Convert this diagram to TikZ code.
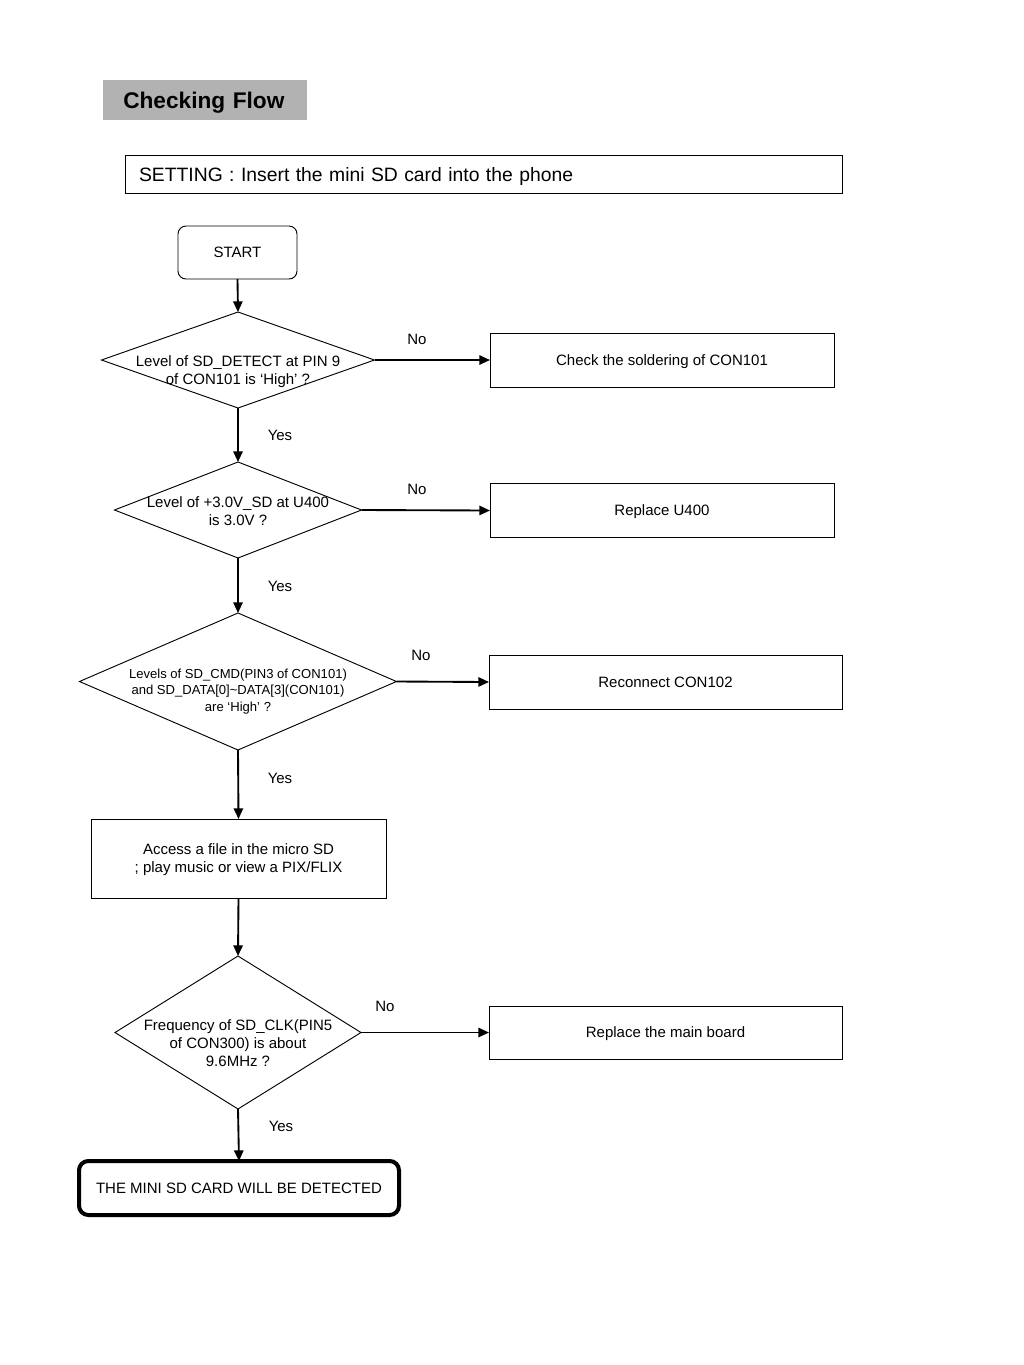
\documentclass[tikz,border=0pt]{standalone}
\usepackage{fontspec}
\setmainfont{Liberation Sans}
\usetikzlibrary{shapes.geometric,arrows.meta}

\begin{document}
\begin{tikzpicture}[x=0.75pt,y=-0.75pt,
  txt/.style={font=\fontsize{11.25}{13.5}\selectfont},
  small/.style={font=\fontsize{9.8}{12.4}\selectfont},
  box/.style={draw,line width=0.7pt,inner sep=0pt,outer sep=0pt,text depth=0pt,
    minimum height=40.5pt,align=center,txt},
  decision/.style={draw,diamond,line width=0.7pt,inner sep=0pt,outer sep=0pt},
  flow/.style={-{Triangle[length=8pt,width=7pt]},line width=1.4pt},
  answer/.style={txt,inner sep=1pt}]

  \useasboundingbox (0,0) rectangle (1024,1365);

  %=== header ===
  \node[fill=black!30,anchor=west,inner xsep=15pt,minimum height=30pt,text width=123pt,
    text depth=0pt,font=\fontsize{17}{19}\selectfont\bfseries] (title) at (103,100) {Checking Flow};
  \node[draw,line width=0.7pt,inner xsep=10.5pt,minimum height=28.5pt,text depth=0pt,
    text width=516.75pt,align=left,font=\fontsize{14.5}{17}\selectfont] (setting) at (483.5,174)
    {SETTING : Insert the mini SD card into the phone};

  %=== main column ===
  \node[box,rounded corners=6pt,minimum width=89.25pt,minimum height=39.75pt] (start) at (237.5,252.5) {START};

  \node[decision,minimum width=204.75pt,minimum height=72pt,
    label={[txt,align=center,yshift=-9pt]center:Level of SD\_DETECT at PIN 9\\of CON101 is `High' ?}] (d1) at (238,360) {};
  \node[decision,minimum width=185.25pt,minimum height=72pt,
    label={[txt,align=center,yshift=-1pt]center:Level of +3.0V\_SD at U400\\is 3.0V ?}] (d2) at (238,510) {};
  \node[decision,minimum width=237.75pt,minimum height=102.75pt,
    label={[small,align=center,yshift=-7.5pt]center:Levels of SD\_CMD(PIN3 of CON101)\\and SD\_DATA[0]\textasciitilde DATA[3](CON101)\\are `High' ?}] (d3) at (238,681.5) {};

  \node[box,minimum width=221.25pt,minimum height=59.25pt] (access) at (238.5,858.5)
    {Access a file in the micro SD\\; play music or view a PIX/FLIX};

  \node[decision,minimum width=184.5pt,minimum height=114.75pt,
    label={[txt,align=center,yshift=-8.25pt]center:Frequency of SD\_CLK(PIN5\\of CON300) is about\\9.6MHz ?}] (d4) at (238,1032.5) {};

  \node[box,line width=3pt,rounded corners=7pt,minimum width=240pt] (done) at (239,1188)
    {THE MINI SD CARD WILL BE DETECTED};

  %=== repair actions ===
  \node[box,minimum width=258pt] (r1) at (662,360) {Check the soldering of CON101};
  \node[box,minimum width=258pt] (r2) at (662,510.5) {Replace U400};
  \node[box,minimum width=264.75pt] (r3) at (665.5,682) {Reconnect CON102};
  \node[box,minimum width=264.75pt,minimum height=39.75pt] (r4) at (665.5,1032.5) {Replace the main board};

  %=== connectors ===
  \draw[flow] (start.south) -- (d1.north);
  \draw[flow] (d1.south) -- (d2.north);
  \draw[flow] (d2.south) -- (d3.north);
  \draw[flow] (d3.south) -- (access.north);
  \draw[flow] (access.south) -- (d4.north);
  \draw[flow] (d4.south) -- (done.north);

  \draw[flow] (d1.east) -- (r1.west);
  \draw[flow] (d2.east) -- (r2.west);
  \draw[flow] (d3.east) -- (r3.west);
  \draw[flow] (d4.east) -- (r4.west);

  % Yes / No
  \node[answer] (no1) at (417,339) {No};
  \node[answer] (no2) at (417,489) {No};
  \node[answer] (no3) at (421,655) {No};
  \node[answer] (no4) at (385,1006) {No};
  \node[answer] (yes1) at (280,435) {Yes};
  \node[answer] (yes2) at (280,586) {Yes};
  \node[answer] (yes3) at (280,778) {Yes};
  \node[answer] (yes4) at (281,1126) {Yes};

\end{tikzpicture}
\end{document}
